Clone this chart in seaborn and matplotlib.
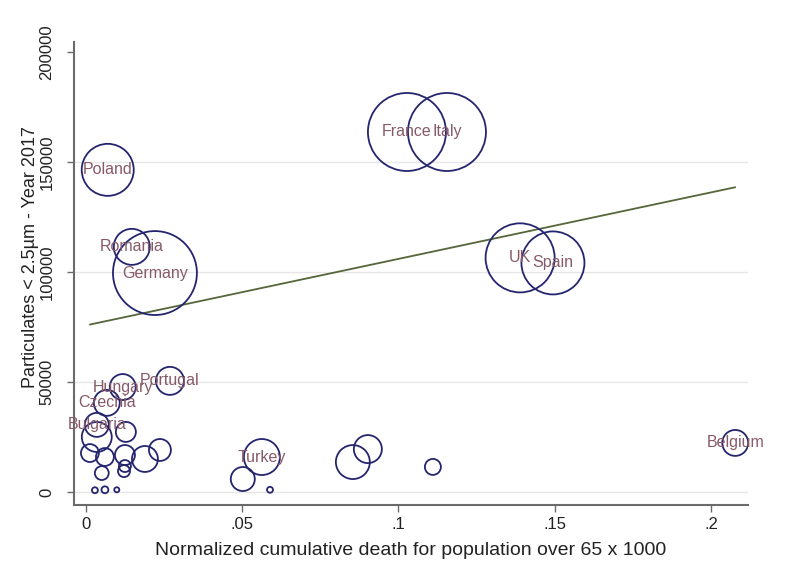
"""Bubble chart: PM2.5 particulates vs normalized cumulative death (65+)."""

import matplotlib
matplotlib.use("Agg")
import matplotlib.pyplot as plt
import numpy as np
import pandas as pd
import seaborn as sns
from matplotlib.ticker import FuncFormatter

# Values
countries = [
    "France", "Italy", "Poland", "Romania", "Germany", "UK", "Spain",
    "Portugal", "Hungary", "Czechia", "Bulgaria", "Belgium", "Turkey",
    "", "", "", "", "", "", "", "", "", "", "", "", "", "", "", "", "", "",
]
death_norm = [
    0.1027, 0.1155, 0.0070, 0.0147, 0.0221, 0.1389, 0.1494,
    0.0269, 0.0118, 0.0067, 0.0035, 0.2077, 0.0563,
    0.0035, 0.0128, 0.0013, 0.0061, 0.0125, 0.0189, 0.0237, 0.0125,
    0.0122, 0.0051, 0.0029, 0.0061, 0.0099, 0.0502, 0.0589, 0.0854,
    0.0902, 0.1110,
]
particulates = [
    163600, 163600, 146400, 111400, 99500, 106400, 104100,
    50500, 47700, 40500, 30500, 22300, 15900,
    25000, 27300, 17700, 15900, 16800, 15000, 19100, 11800,
    9500, 8600, 800, 1000, 1000, 5900, 1000, 13600,
    19500, 11400,
]
# bubble weight (area of each circle)
weight = [
    19.0, 19.0, 8.45, 4.05, 22.0, 14.9, 12.4,
    2.45, 2.1, 2.1, 1.8, 2.1, 4.05,
    2.8, 1.25, 1.0, 1.0, 1.25, 2.1, 1.5, 0.45,
    0.45, 0.6, 0.11, 0.15, 0.08, 1.8, 0.11, 3.6,
    2.45, 0.8,
]
# weighted linear fit shown in the chart
fit_intercept = 75700
fit_slope = 302300

NAVY = "#25256f"
LABEL_COLOR = "#865a68"
FIT_COLOR = "#56653a"
AXIS_GRAY = "#6b6b6b"

df = pd.DataFrame({
    "country": countries,
    "death": death_norm,
    "pm25": particulates,
    "w": weight,
})

sns.set_style("white")
plt.rcParams["font.family"] = ["Liberation Sans", "DejaVu Sans"]

fig = plt.figure(figsize=(7.86, 5.76), dpi=100)
ax = fig.add_axes([0.0941, 0.1233, 0.8576, 0.8038])

# marker area proportional to weight
k = 166.0
sns.scatterplot(
    data=df, x="death", y="pm25", size="w",
    sizes=(k * df["w"].min(), k * df["w"].max()),
    fc="none", ec=NAVY, linewidth=1.3, legend=False, ax=ax, zorder=3,
)

for _, row in df.iterrows():
    if row["country"]:
        ax.text(row["death"], row["pm25"], row["country"], ha="center",
                va="center", color=LABEL_COLOR, fontsize=11.5, zorder=4)

xs = np.array([df["death"].min(), df["death"].max()])
ax.plot(xs, fit_intercept + fit_slope * xs, color=FIT_COLOR, linewidth=1.3,
        zorder=2)

ax.set_xlim(-0.0038, 0.2118)
ax.set_ylim(-5900, 204500)
ax.set_xticks([0, 0.05, 0.1, 0.15, 0.2])
ax.set_yticks([0, 50000, 100000, 150000, 200000])
ax.xaxis.set_major_formatter(
    FuncFormatter(lambda v, _: "0" if v == 0 else f"{v:g}".lstrip("0")))
ax.yaxis.set_major_formatter(FuncFormatter(lambda v, _: f"{v:.0f}"))

ax.grid(axis="y", color="#e6e6e6", linewidth=1.0, zorder=0)
ax.get_ygridlines()[-1].set_visible(False)

for side in ["top", "right"]:
    ax.spines[side].set_visible(False)
for side in ["left", "bottom"]:
    ax.spines[side].set_color(AXIS_GRAY)
    ax.spines[side].set_linewidth(1.5)

ax.tick_params(axis="both", which="major", direction="out", length=5,
               width=1.0, color=AXIS_GRAY, labelsize=12, labelcolor="#222222",
               left=True, bottom=True)
ax.tick_params(axis="y", pad=9)
plt.setp(ax.get_yticklabels(), rotation=90, va="center")

ax.set_xlabel("Normalized cumulative death for population over 65 x 1000",
              fontsize=14, color="#222222", labelpad=7)
ax.set_ylabel("Particulates < 2.5µm - Year 2017", fontsize=13,
              color="#222222")
ax.yaxis.set_label_coords(-0.052, 0.535)

fig.savefig("out.png", dpi=100, facecolor="white")
plt.close(fig)
